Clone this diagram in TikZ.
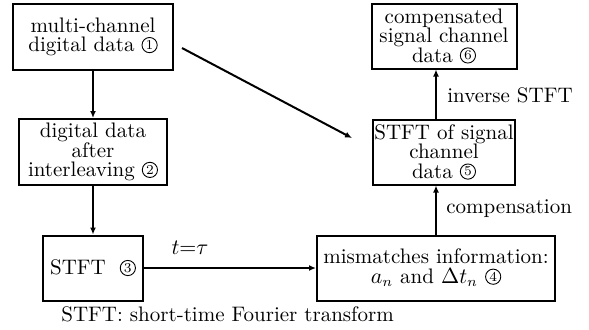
\documentclass[tikz,border=0pt]{standalone}
\usetikzlibrary{arrows.meta}
% circled step number, drawn as a small ring round the digit
\newcommand{\cnum}[1]{\tikz[baseline={([yshift=0.6pt]cn.south)}, x=1pt, y=1pt]
  \node[circle, draw, line width=0.45pt, inner sep=0pt, minimum size=7.6pt,
        font=\fontsize{6.8}{6.8}\selectfont] (cn) {#1};}
\tikzset{
  txt/.style={font=\fontsize{10.5}{9.8}\selectfont, inner sep=0pt},
  blk/.style={txt, draw, line width=1pt, align=center},
  flow/.style={line width=1pt, -{Latex[length=3.5pt,width=3pt]}},
}
\begin{document}
\begin{tikzpicture}[x=0.5pt, y=-0.5pt]
  \useasboundingbox (0,0) rectangle (589,329);
  % processing blocks
  \node[blk, minimum width=80pt, minimum height=33pt] (b1) at (93,37)
    {multi-channel\\digital data \cnum{1}};
  \node[blk, minimum width=74pt, minimum height=33pt] (b2) at (93,152)
    {digital data\\after\\interleaving \cnum{2}};
  \node[blk, minimum width=50pt, minimum height=32.5pt] (b3) at (93,268)
    {STFT\ \ \cnum{3}};
  \node[blk, minimum width=119pt, minimum height=32.5pt] (b4) at (436,268)
    {mismatches information:\\$a_{n}$ and $\Delta t_{n}$ \cnum{4}};
  \node[blk, minimum width=71pt, minimum height=32.5pt] (b5) at (444,152)
    {STFT of signal\\channel\\data \cnum{5}};
  \node[blk, minimum width=72.5pt, minimum height=32.5pt] (b6) at (444,36)
    {compensated\\signal channel\\data \cnum{6}};
  % connectors
  \draw[flow] (b1.south) -- (b2.north);
  \draw[flow] (b2.south) -- (b3.north);
  \draw[flow] (b3.east) -- (b4.west);
  \draw[flow] (b4.north) -- (b4.north |- b5.south);
  \draw[flow] (b4.north |- b5.north) -- (b4.north |- b6.south);
  \coordinate (dstart) at (182,48);
  \coordinate (dend) at (352,138);
  \draw[flow] (dstart) -- (dend);
  % labels
  \node[txt] (lt) at (190,248) {$t{=}\tau$};
  \node[txt, anchor=west] (linv) at (447,95) {inverse STFT};
  \node[txt, anchor=west] (lcomp) at (446,209) {compensation};
  \node[txt, anchor=west] (cap) at (61,314) {STFT: short-time Fourier transform};
\end{tikzpicture}
\end{document}
